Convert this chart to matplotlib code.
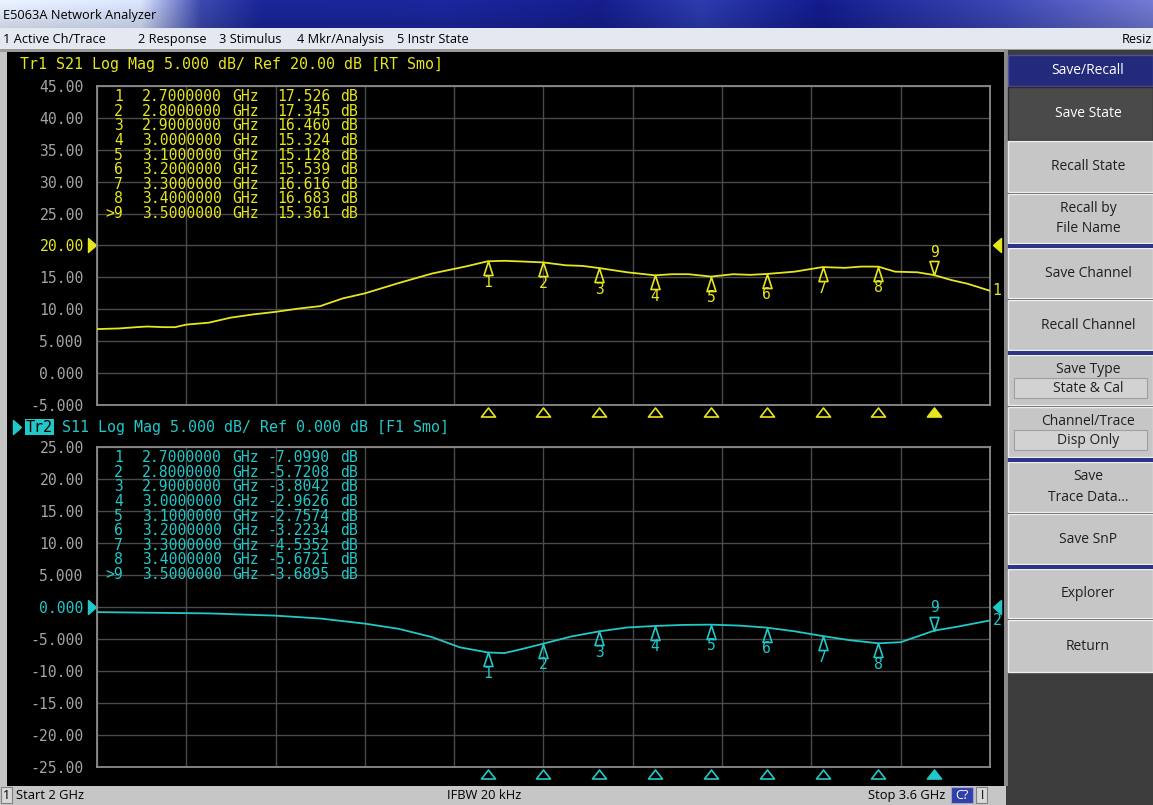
import numpy as np
import matplotlib
matplotlib.use('Agg')
from matplotlib import pyplot as plt
from matplotlib.patches import Rectangle
from matplotlib.path import Path

W, H = 1153, 805

# Tr1 S21 trace (GHz, dB)
s21_freq = [2.00, 2.04, 2.07, 2.09, 2.12, 2.14, 2.16, 2.20, 2.24, 2.28, 2.32, 2.36,
            2.40, 2.44, 2.48, 2.54, 2.60, 2.66, 2.70, 2.73, 2.76, 2.80, 2.84, 2.87,
            2.90, 2.95, 3.00, 3.03, 3.06, 3.10, 3.14, 3.17, 3.20, 3.25, 3.30, 3.34,
            3.37, 3.40, 3.43, 3.47, 3.50, 3.53, 3.56, 3.60]
s21_db = [6.9, 7.0, 7.2, 7.3, 7.2, 7.2, 7.6, 7.9, 8.7, 9.2, 9.6, 10.1,
          10.5, 11.7, 12.5, 14.1, 15.6, 16.7, 17.526, 17.6, 17.5, 17.345, 16.9, 16.8,
          16.460, 15.8, 15.324, 15.5, 15.5, 15.128, 15.5, 15.4, 15.539, 15.9, 16.616, 16.5,
          16.7, 16.683, 15.9, 15.8, 15.361, 14.6, 14.0, 12.9]

# Tr2 S11 trace (GHz, dB)
s11_freq = [2.00, 2.10, 2.20, 2.32, 2.40, 2.48, 2.54, 2.60, 2.65, 2.70, 2.73, 2.76,
            2.80, 2.85, 2.90, 2.95, 3.00, 3.05, 3.10, 3.15, 3.20, 3.25, 3.30, 3.35,
            3.40, 3.44, 3.47, 3.50, 3.54, 3.57, 3.60]
s11_db = [-0.8, -0.9, -1.0, -1.35, -1.8, -2.6, -3.4, -4.7, -6.3, -7.099, -7.2, -6.6,
          -5.721, -4.6, -3.804, -3.2, -2.963, -2.8, -2.757, -2.9, -3.223, -3.8, -4.535, -5.2,
          -5.672, -5.5, -4.6, -3.690, -3.1, -2.6, -2.1]

# marker table
mkr_freq = [2.7, 2.8, 2.9, 3.0, 3.1, 3.2, 3.3, 3.4, 3.5]
mkr_s21 = [17.526, 17.345, 16.460, 15.324, 15.128, 15.539, 16.616, 16.683, 15.361]
mkr_s11 = [-7.0990, -5.7208, -3.8042, -2.9626, -2.7574, -3.2234, -4.5352, -5.6721, -3.6895]
active_mkr = 9

menu_items = ["1 Active Ch/Trace", "2 Response", "3 Stimulus", "4 Mkr/Analysis", "5 Instr State"]
menu_x = [3, 138, 219, 297, 397]

YELLOW = '#e6e61e'
CYAN = '#22c8c8'
GRIDC = '#4a4a4a'
MONO = 'DejaVu Sans Mono'
UI = ['Open Sans', 'DejaVu Sans']

fig = plt.figure(figsize=(W / 100, H / 100), dpi=100)
bg = fig.add_axes([0, 0, 1, 1])
bg.axis('off')
bg.set_zorder(0)


def box(x0, y0, x1, y1, fc, ec='none', lw=0, z=1):
    bg.add_patch(Rectangle((x0, y0), x1 - x0, y1 - y0, facecolor=fc,
                           edgecolor=ec, linewidth=lw, zorder=z))


def uitext(x, y, s, size=9, color='black', ha='left', **kw):
    bg.text(x, y, s, fontsize=size, color=color, ha=ha, va='center',
            family=UI, zorder=5, **kw)


def toptext(x, y, s, color, size=10.6, ha='left', **kw):
    # drawn at figure level so it lands above the plot axes
    fig.text(x, y, s, transform=bg.transData, color=color, fontsize=size,
             family=MONO, ha=ha, va='center', zorder=6, **kw)


# title bar gradient
stops_x = [0, 140, 200, 260, 450, 600, 700, 820, 1000, 1153]
stops_c = np.array([[0.86, 0.89, 0.95], [0.80, 0.84, 0.93], [0.22, 0.27, 0.64],
                    [0.10, 0.14, 0.56], [0.10, 0.14, 0.58], [0.08, 0.11, 0.52],
                    [0.16, 0.22, 0.64], [0.07, 0.10, 0.52], [0.22, 0.26, 0.66],
                    [0.42, 0.45, 0.78]])
xs = np.arange(W)
row = np.stack([np.interp(xs, stops_x, stops_c[:, k]) for k in range(3)], axis=-1)
shade = np.linspace(1.08, 0.92, 28)[:, None, None]
grad = np.clip(row[None, :, :] * shade, 0, 1)
bg.imshow(grad, extent=(0, W, 28, 0), aspect='auto', zorder=1)
uitext(3, 15, "E5063A Network Analyzer", size=9.2)

# menu bar
box(0, 28, W, 50, '#e4e8f0')
box(0, 49, W, 52, '#9a9a9a')
for s, x in zip(menu_items, menu_x):
    uitext(x, 39.5, s, size=9.2)
uitext(1152, 39.5, "Resiz", size=9.2, ha='right')

# display area
box(0, 52, 1008, H, '#c4c4c4')
box(7, 52, 1004, 786, 'black', z=1.5)

# status bar
box(0, 786, 1006, H, '#c6c6c6', z=2)
box(1, 787, 12, 803, '#d8d8d8', ec='#808080', lw=0.8, z=2.5)
uitext(6.5, 795, "1", size=9, ha='center')
uitext(16, 795, "Start 2 GHz", size=9.3)
uitext(447, 795, "IFBW 20 kHz", size=9.3)
uitext(868, 795, "Stop 3.6 GHz", size=9.3)
box(951, 787, 973, 803, '#3040a8', ec='#a0a0d0', lw=0.8, z=2.5)
uitext(962, 795, "C?", size=9, color='white', ha='center')
box(976, 787, 987, 803, '#d8d8d8', ec='#808080', lw=0.8, z=2.5)
uitext(981.5, 795, "!", size=9, ha='center')

# softkey panel
box(1004, 50, W, H, '#3c3c3c')
box(1004, 50, 1008, 786, '#8a8a8a')
box(1008, 55, W, 86, '#232a7c', ec='#4a52a0', lw=1)
uitext(1088, 70, "Save/Recall", size=10, color='white', ha='center')
softkeys = [("Save State", None, 87, 140, True),
            ("Recall State", None, 141, 192, False),
            ("Recall by\nFile Name", None, 194, 243, False),
            ("Save Channel", None, 248, 298, False),
            ("Recall Channel", None, 300, 350, False),
            ("Save Type", "State & Cal", 355, 405, False),
            ("Channel/Trace", "Disp Only", 407, 457, False),
            ("Save\nTrace Data...", None, 462, 512, False),
            ("Save SnP", None, 514, 564, False),
            ("Explorer", None, 569, 618, False),
            ("Return", None, 620, 672, False)]
for label, sub, y0, y1, dark in softkeys:
    if dark:
        box(1008, y0, W, y1, '#4a4a4a', ec='#2a2a2a', lw=1)
        uitext(1088, (y0 + y1) / 2, label, size=10, color='white', ha='center')
        continue
    box(1008, y0, W, y1, '#c6c6c6', ec='#eeeeee', lw=1)
    if sub:
        uitext(1088, y0 + 14, label, size=10, color='#202020', ha='center')
        box(1014, y0 + 23, 1147, y0 + 43, '#d2d2d2', ec='#a0a0a0', lw=0.8, z=2)
        uitext(1088, y0 + 33, sub, size=10, color='#202020', ha='center')
    else:
        uitext(1088, (y0 + y1) / 2, label, size=10, color='#202020', ha='center',
               multialignment='center', linespacing=1.5)
for y in [244, 351, 458, 565]:
    box(1008, y, W, y + 4, '#2c3488')

bg.set_xlim(0, W)
bg.set_ylim(H, 0)


def fmt4(v):
    return f"{v:.2f}" if abs(v) >= 10 else f"{v:.3f}"


up_tri = Path([(0, 0), (-4.5, -14), (4.5, -14), (0, 0)],
              [Path.MOVETO, Path.LINETO, Path.LINETO, Path.CLOSEPOLY])
down_tri = Path([(0, 0), (-4.5, 14), (4.5, 14), (0, 0)],
                [Path.MOVETO, Path.LINETO, Path.LINETO, Path.CLOSEPOLY])
row_tri = Path([(-7, -4.5), (7, -4.5), (0, 4.5), (-7, -4.5)],
               [Path.MOVETO, Path.LINETO, Path.LINETO, Path.CLOSEPOLY])
right_arrow = Path([(-4, -7), (-4, 7), (4, 0), (-4, -7)],
                   [Path.MOVETO, Path.LINETO, Path.LINETO, Path.CLOSEPOLY])
left_arrow = Path([(4, -7), (4, 7), (-4, 0), (4, -7)],
                  [Path.MOVETO, Path.LINETO, Path.LINETO, Path.CLOSEPOLY])


def trace_panel(top, bot, freq, db, ylo, yhi, ref, color, mvals, vfmt, end_label):
    ax = fig.add_axes([97 / W, 1 - bot / H, 893 / W, (bot - top) / H])
    ax.set_zorder(1)
    ax.set_facecolor('black')
    ax.set_xlim(2.0, 3.6)
    ax.set_ylim(ylo, yhi)
    ax.set_xticks(np.linspace(2.0, 3.6, 11))
    ticks = np.arange(ylo, yhi + 1, 5)
    ax.set_yticks(ticks)
    ax.set_yticklabels([fmt4(v) for v in ticks], family=MONO, fontsize=10.6)
    for lab, v in zip(ax.get_yticklabels(), ticks):
        lab.set_color(color if v == ref else '#a4a4a4')
    ax.tick_params(length=0, labelbottom=False, pad=9.5)
    ax.grid(True, color=GRIDC, lw=1)
    for sp in ax.spines.values():
        sp.set_color('#8c8c8c')
        sp.set_linewidth(1.3)
    ax.plot(freq, db, color=color, lw=1.3, zorder=3)

    # markers on trace
    for i, (f, v) in enumerate(zip(mkr_freq, mvals), start=1):
        if i == active_mkr:
            ax.plot(f, v, marker=down_tri, ms=20.2, mfc='none', mec=color, mew=1.2, zorder=4)
            dy = 23
        else:
            ax.plot(f, v, marker=up_tri, ms=20.2, mfc='none', mec=color, mew=1.2, zorder=4)
            dy = -21
        ax.annotate(str(i), (f, v), xytext=(0, dy * 0.72), textcoords='offset points',
                    ha='center', va='center', color=color, fontsize=10.6, family=MONO,
                    zorder=5)

    # marker row under the grid
    xt = ax.get_xaxis_transform()
    for i, f in enumerate(mkr_freq, start=1):
        ax.plot(f, -7 / (bot - top), marker=row_tri, ms=10.1, transform=xt, clip_on=False,
                mfc=color if i == active_mkr else 'none', mec=color, mew=1.2)

    # reference arrows and trace end label
    yt = ax.get_yaxis_transform()
    ax.plot(-5 / 893, ref, marker=right_arrow, ms=10.1, color=color, transform=yt, clip_on=False)
    ax.plot(1 + 7 / 893, ref, marker=left_arrow, ms=10.1, color=color, transform=yt, clip_on=False)
    ax.text(1 + 7 / 893, db[-1], end_label, transform=yt, color=color, fontsize=10.6,
            family=MONO, ha='center', va='center')

    # marker table
    for i, (f, v) in enumerate(zip(mkr_freq, mvals), start=1):
        y = top + 10.7 + 14.6 * (i - 1)
        num = (">" if i == active_mkr else "") + str(i)
        toptext(123, y, num, color, ha='right')
        toptext(142, y, f"{f:.7f}", color)
        toptext(232, y, "GHz", color)
        toptext(330, y, vfmt(v), color, ha='right')
        toptext(340, y, "dB", color)
    return ax


ax1 = trace_panel(86, 405, s21_freq, s21_db, -5, 45, 20, YELLOW, mkr_s21,
                  lambda v: f"{v:.3f}", "1")
ax2 = trace_panel(447, 767, s11_freq, s11_db, -25, 25, 0, CYAN, mkr_s11,
                  lambda v: f"{v:.4f}", "2")

# trace headers
toptext(20, 65, "Tr1 S21 Log Mag 5.000 dB/ Ref 20.00 dB [RT Smo]", YELLOW, size=10.8)
bg.plot(17, 427, marker=right_arrow, ms=10.1, color=CYAN, zorder=6)
toptext(26, 427, "Tr2", 'black', size=10.8,
        bbox=dict(facecolor=CYAN, edgecolor='none', pad=0.6))
toptext(62, 427, "S11 Log Mag 5.000 dB/ Ref 0.000 dB [F1 Smo]", CYAN, size=10.8)

fig.savefig('out.png', dpi=100)
